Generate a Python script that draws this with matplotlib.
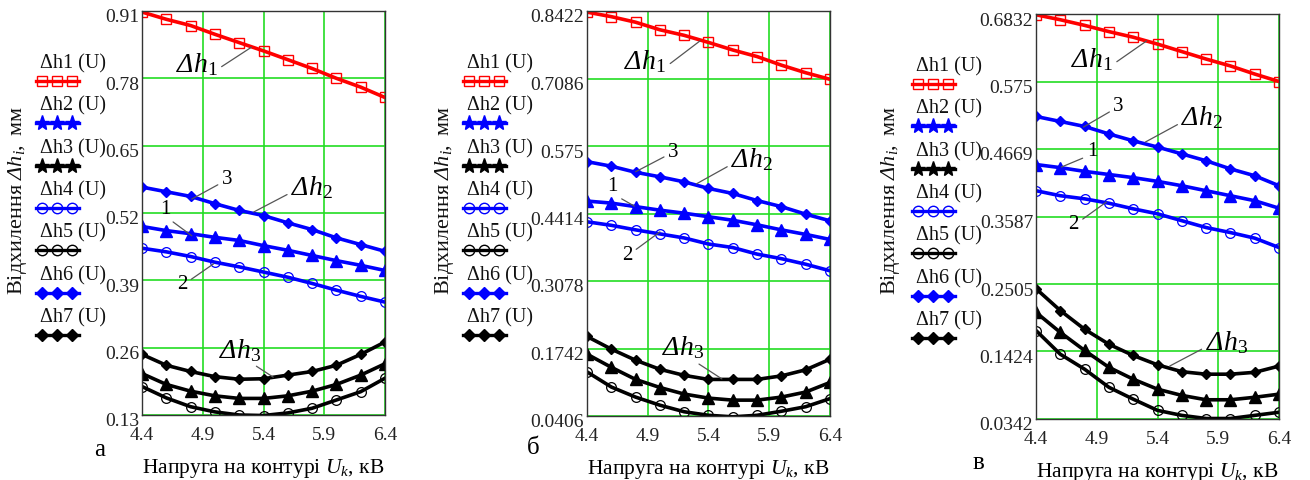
import numpy as np
import matplotlib
matplotlib.use("Agg")
import matplotlib.pyplot as plt
from matplotlib.lines import Line2D
from matplotlib.transforms import ScaledTranslation

plt.rcParams['font.family'] = ['Liberation Serif', 'DejaVu Serif']
plt.rcParams['mathtext.fontset'] = 'custom'
plt.rcParams['mathtext.rm'] = 'Liberation Serif'
plt.rcParams['mathtext.it'] = 'Liberation Serif:italic'
plt.rcParams['mathtext.bf'] = 'Liberation Serif:bold'

# напруга на контурі, кВ
u = [4.4, 4.6, 4.8, 5.0, 5.2, 5.4, 5.6, 5.8, 6.0, 6.2, 6.4]
x_ticks = [4.4, 4.9, 5.4, 5.9, 6.4]

# панель а
a_h1 = [0.908, 0.894, 0.882, 0.865, 0.849, 0.833, 0.816, 0.799, 0.780, 0.763, 0.743]
a_h2 = [0.494, 0.486, 0.480, 0.473, 0.467, 0.457, 0.448, 0.438, 0.428, 0.419, 0.409]
a_h3 = [0.210, 0.189, 0.176, 0.167, 0.162, 0.162, 0.167, 0.176, 0.189, 0.207, 0.229]
a_h4 = [0.452, 0.445, 0.436, 0.425, 0.416, 0.406, 0.396, 0.384, 0.371, 0.359, 0.348]
a_h5 = [0.185, 0.163, 0.146, 0.136, 0.130, 0.129, 0.134, 0.143, 0.159, 0.175, 0.201]
a_h6 = [0.570, 0.561, 0.552, 0.538, 0.525, 0.515, 0.501, 0.488, 0.472, 0.459, 0.446]
a_h7 = [0.247, 0.226, 0.214, 0.204, 0.199, 0.200, 0.207, 0.214, 0.226, 0.247, 0.271]
a_yticks = [0.13, 0.26, 0.39, 0.52, 0.65, 0.78, 0.91]
a_ylabels = ['0.13', '0.26', '0.39', '0.52', '0.65', '0.78', '0.91']

# панель б
b_h1 = [0.840, 0.831, 0.820, 0.805, 0.794, 0.780, 0.765, 0.752, 0.735, 0.720, 0.707]
b_h2 = [0.466, 0.462, 0.455, 0.448, 0.442, 0.435, 0.428, 0.419, 0.409, 0.400, 0.390]
b_h3 = [0.163, 0.137, 0.113, 0.097, 0.084, 0.076, 0.072, 0.072, 0.078, 0.088, 0.107]
b_h4 = [0.425, 0.418, 0.409, 0.401, 0.393, 0.381, 0.374, 0.361, 0.352, 0.341, 0.328]
b_h5 = [0.128, 0.098, 0.078, 0.062, 0.049, 0.042, 0.039, 0.042, 0.050, 0.059, 0.075]
b_h6 = [0.544, 0.535, 0.523, 0.514, 0.504, 0.491, 0.481, 0.467, 0.455, 0.440, 0.427]
b_h7 = [0.198, 0.173, 0.151, 0.133, 0.121, 0.113, 0.113, 0.113, 0.120, 0.132, 0.153]
b_yticks = [0.0406, 0.1742, 0.3078, 0.4414, 0.575, 0.7086, 0.8422]
b_ylabels = ['0.0406', '0.1742', '0.3078', '0.4414', '0.575', '0.7086', '0.8422']

# панель в
c_h1 = [0.682, 0.674, 0.665, 0.655, 0.646, 0.635, 0.623, 0.611, 0.600, 0.587, 0.575]
c_h2 = [0.442, 0.437, 0.431, 0.426, 0.421, 0.415, 0.408, 0.400, 0.392, 0.384, 0.372]
c_h3 = [0.205, 0.173, 0.144, 0.117, 0.098, 0.082, 0.072, 0.065, 0.065, 0.069, 0.074]
c_h4 = [0.400, 0.392, 0.387, 0.380, 0.371, 0.363, 0.352, 0.341, 0.333, 0.324, 0.309]
c_h5 = [0.176, 0.138, 0.114, 0.085, 0.066, 0.048, 0.040, 0.035, 0.035, 0.040, 0.045]
c_h6 = [0.519, 0.511, 0.503, 0.491, 0.480, 0.470, 0.459, 0.448, 0.435, 0.424, 0.408]
c_h7 = [0.243, 0.208, 0.178, 0.154, 0.136, 0.121, 0.110, 0.106, 0.106, 0.109, 0.119]
c_yticks = [0.0342, 0.1424, 0.2505, 0.3587, 0.4669, 0.575, 0.6832]
c_ylabels = ['0.0342', '0.1424', '0.2505', '0.3587', '0.4669', '0.575', '0.6832']

names = ['Δh1 (U)', 'Δh2 (U)', 'Δh3 (U)', 'Δh4 (U)', 'Δh5 (U)', 'Δh6 (U)', 'Δh7 (U)']
RED, BLUE, BLK = '#ff0000', '#0000ff', '#000000'
styles = [
    dict(color=RED, marker='s', ms=7.5, mfc='none', mew=1.0),
    dict(color=BLUE, marker='^', ms=8, mfc=BLUE),
    dict(color=BLK, marker='^', ms=8, mfc=BLK),
    dict(color=BLUE, marker='o', ms=7, mfc='none', mew=0.9),
    dict(color=BLK, marker='o', ms=7, mfc='none', mew=0.9),
    dict(color=BLUE, marker='D', ms=5.5, mfc=BLUE),
    dict(color=BLK, marker='D', ms=5.5, mfc=BLK),
]
# у легенді Mathcad трикутники показані зірочками
legend_markers = ['s', '*', '*', 'o', 'o', 'D', 'D']

def dh(i):
    return r'Δh$_{%s}$' % i

# курсивна Δ лише поза mathtext, тому решта підпису через \mathrm
y_title = r'$\mathrm{Відхилення\ }$Δh$_i$$\mathrm{,\ мм}$'

W, H = 1310, 481
fig = plt.figure(figsize=(13.1, 4.81), dpi=100)

panels = [
    dict(rect=[142, 12, 385, 416], data=[a_h1, a_h2, a_h3, a_h4, a_h5, a_h6, a_h7],
         yt=a_yticks, yl=a_ylabels, leg_x=36, leg_y=64, ylab_x=18, letter=('а', 100, 450),
         ann=[(dh(1), (5.30, 0.840), (4.85, 0.808), (1.0, 0.3)),
              ('3', (4.81, 0.547), (5.10, 0.586), (0.0, 0.3)),
              ('1', (4.81, 0.476), (4.59, 0.528), (0.8, 0.0)),
              ('2', (4.99, 0.422), (4.73, 0.383), (1.0, 0.6)),
              (dh(2), (5.32, 0.522), (5.80, 0.570), (0.0, 0.3)),
              (dh(3), (5.48, 0.203), (5.21, 0.257), (0.75, 0.0))]),
    dict(rect=[587, 12, 830, 417], data=[b_h1, b_h2, b_h3, b_h4, b_h5, b_h6, b_h7],
         yt=b_yticks, yl=b_ylabels, leg_x=463, leg_y=64, ylab_x=445, letter=('б', 533, 448),
         ann=[(dh(1), (5.33, 0.783), (4.88, 0.743), (1.0, 0.3)),
              ('3', (4.80, 0.524), (5.11, 0.565), (0.0, 0.3)),
              ('1', (4.79, 0.456), (4.61, 0.496), (0.8, 0.0)),
              ('2', (5.00, 0.405), (4.73, 0.361), (1.0, 0.6)),
              (dh(2), (5.30, 0.500), (5.76, 0.549), (0.0, 0.3)),
              (dh(3), (5.51, 0.114), (5.19, 0.177), (0.75, 0.0))]),
    dict(rect=[1036, 15, 1279, 420], data=[c_h1, c_h2, c_h3, c_h4, c_h5, c_h6, c_h7],
         yt=c_yticks, yl=c_ylabels, leg_x=912, leg_y=67, ylab_x=890, letter=('в', 978, 463),
         ann=[(dh(1), (5.31, 0.640), (4.86, 0.611), (1.0, 0.3)),
              ('3', (4.79, 0.502), (5.08, 0.536), (0.0, 0.3)),
              ('1', (4.61, 0.438), (4.86, 0.464), (0.0, 0.2)),
              ('2', (4.98, 0.382), (4.71, 0.347), (1.0, 0.6)),
              (dh(2), (5.30, 0.478), (5.77, 0.518), (0.0, 0.3)),
              (dh(3), (5.50, 0.119), (5.97, 0.158), (0.0, 0.3))]),
]

shift_down = ScaledTranslation(0, -4 / 100, fig.dpi_scale_trans)

for p in panels:
    l, t, r, b = p['rect']
    ax = fig.add_axes([l / W, 1 - b / H, (r - l) / W, (b - t) / H])
    for vals, st in zip(p['data'], styles):
        ax.plot(u, vals, lw=2.6, **st)
    ax.set_xlim(4.4, 6.4)
    ax.set_ylim(p['yt'][0], p['yt'][-1])
    ax.set_xticks(x_ticks)
    ax.set_xticklabels(['4.4', '4.9', '5.4', '5.9', '6.4'])
    ax.set_yticks(p['yt'])
    ax.set_yticklabels(p['yl'])
    ax.grid(color='#22dd22', lw=1.2)
    ax.set_axisbelow(True)
    ax.tick_params(length=0, labelsize=14, colors='#222222')
    ax.tick_params(axis='x', pad=8)
    ax.tick_params(axis='y', pad=2)
    for lab in ax.get_yticklabels():
        lab.set_transform(lab.get_transform() + shift_down)
    for sp in ax.spines.values():
        sp.set_color('#333333')
        sp.set_linewidth(1.0)
    ax.set_xlabel(r'Напруга на контурі $U_k$, кВ', fontsize=15.5, labelpad=9)

    for txt, xy, xyt, rp in p['ann']:
        big = 'Δ' in txt
        ax.annotate(txt, xy=xy, xytext=xyt, fontsize=20 if big else 15,
                    style='italic' if big else 'normal', ha='center', va='center',
                    arrowprops=dict(arrowstyle='-', color='#555555', lw=0.9,
                                    shrinkA=1, shrinkB=0, relpos=rp))

    # легенда у стилі Mathcad: підпис над зразком лінії
    for i, (name, st, mk) in enumerate(zip(names, styles, legend_markers)):
        ty = p['leg_y'] + i * 42.3
        fig.text((p['leg_x'] + 4) / W, 1 - ty / H, name, fontsize=14.5,
                 ha='left', va='center', color='#111111')
        ly = 1 - (ty + 18) / H
        fig.add_artist(Line2D([p['leg_x'] / W, (p['leg_x'] + 43) / W], [ly, ly],
                              transform=fig.transFigure, color=st['color'], lw=2.4))
        fig.add_artist(Line2D([(p['leg_x'] + 6) / W, (p['leg_x'] + 21) / W, (p['leg_x'] + 36) / W],
                              [ly, ly, ly], transform=fig.transFigure, ls='none',
                              color=st['color'], marker=mk,
                              ms=11 if mk == '*' else (7.5 if mk != 'D' else 6.5),
                              mfc=st['mfc'], mew=1.0))

    fig.text(p['ylab_x'] / W, 1 - 201 / H, y_title, rotation=90, fontsize=16,
             style='italic', ha='center', va='center', color='#111111')
    let, lx, ly2 = p['letter']
    fig.text(lx / W, 1 - ly2 / H, let, fontsize=18, ha='center', va='center')

fig.savefig('out.png', dpi=100)
